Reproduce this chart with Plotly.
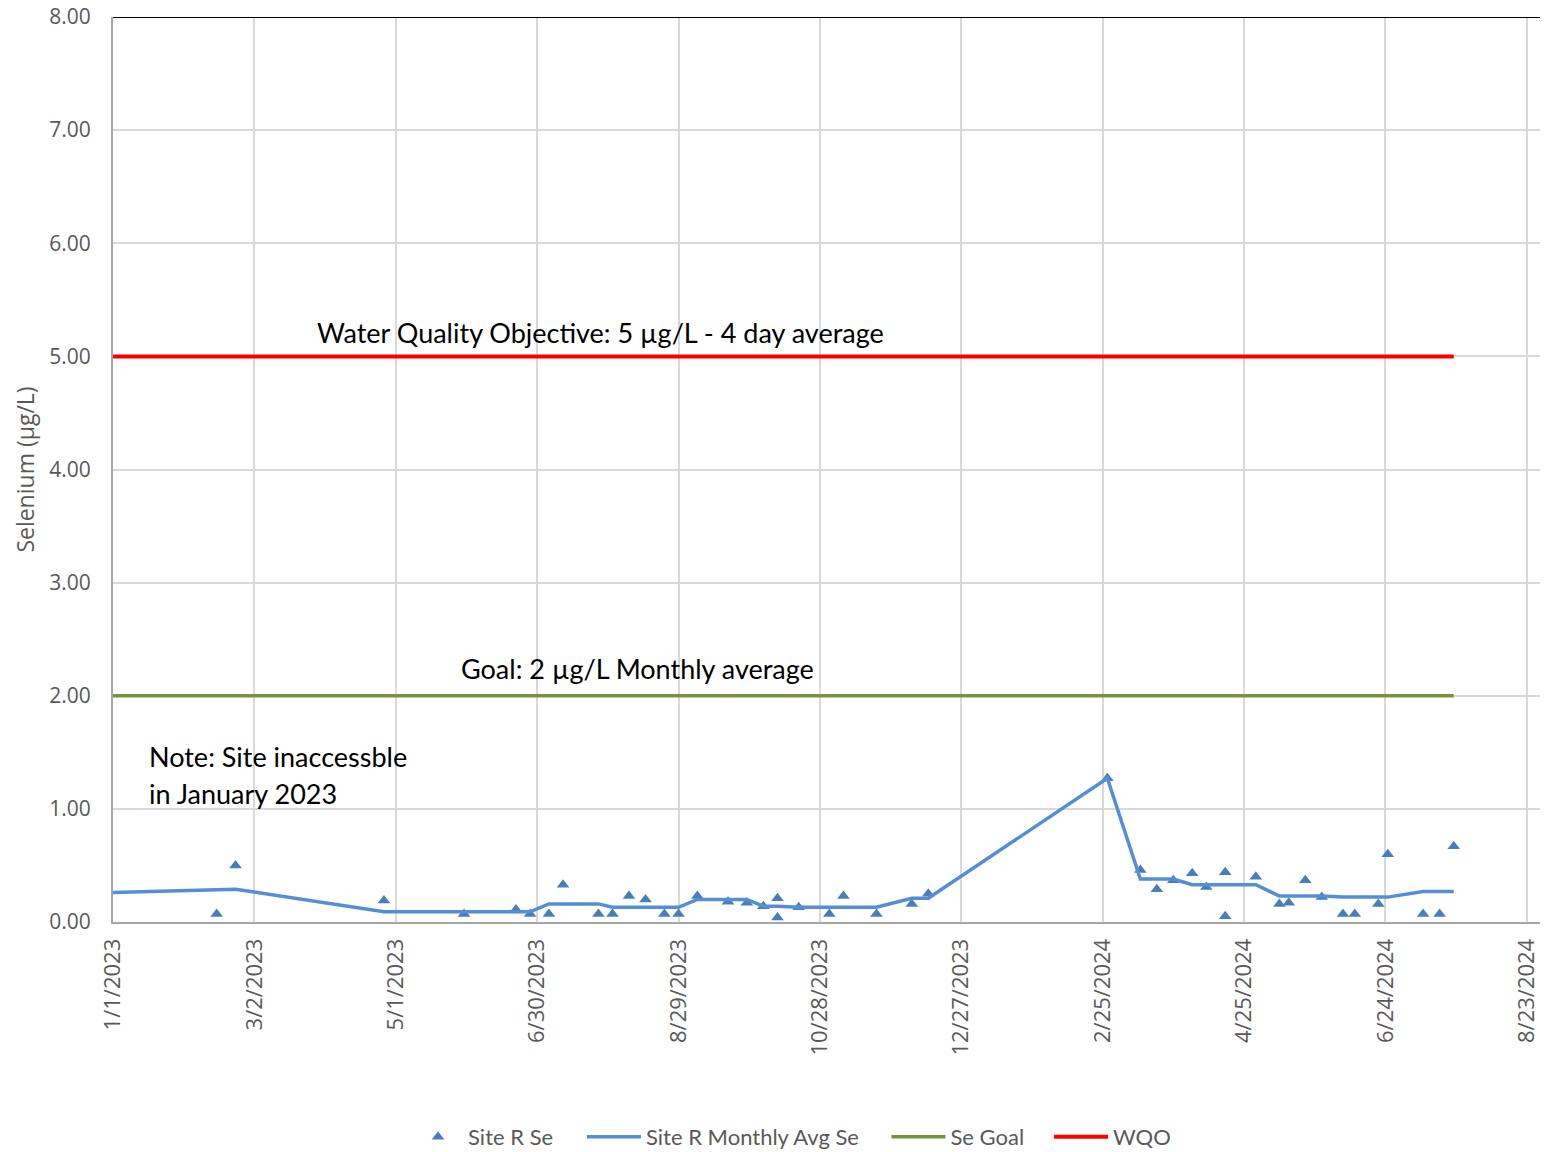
import plotly.graph_objects as go

# Individual samples
sample_dates = [
    "2023-02-14", "2023-02-22", "2023-04-26", "2023-05-30", "2023-06-21", "2023-06-27",
    "2023-07-05", "2023-07-11", "2023-07-26", "2023-08-01", "2023-08-08", "2023-08-15",
    "2023-08-23", "2023-08-29", "2023-09-06", "2023-09-19", "2023-09-27", "2023-10-04",
    "2023-10-10", "2023-10-10", "2023-10-19", "2023-11-01", "2023-11-07", "2023-11-21",
    "2023-12-06", "2023-12-13", "2024-02-27", "2024-03-12", "2024-03-19", "2024-03-26",
    "2024-04-03", "2024-04-09", "2024-04-17", "2024-04-17", "2024-04-30", "2024-05-10",
    "2024-05-14", "2024-05-21", "2024-05-28", "2024-06-06", "2024-06-11", "2024-06-21",
    "2024-06-25", "2024-07-10", "2024-07-17", "2024-07-23",
]
sample_se = [
    0.07, 0.50, 0.19, 0.07, 0.11, 0.07,
    0.07, 0.33, 0.07, 0.07, 0.23, 0.20,
    0.07, 0.07, 0.23, 0.18, 0.17, 0.14,
    0.21, 0.04, 0.13, 0.07, 0.23, 0.07,
    0.16, 0.25, 1.27, 0.46, 0.29, 0.37,
    0.43, 0.31, 0.44, 0.05, 0.40, 0.16,
    0.17, 0.37, 0.22, 0.07, 0.07, 0.16,
    0.60, 0.07, 0.07, 0.67,
]

# Monthly average line
avg_dates = [
    "2023-01-01", "2023-02-14", "2023-02-22", "2023-04-26", "2023-05-30", "2023-06-21",
    "2023-06-27", "2023-07-05", "2023-07-11", "2023-07-26", "2023-08-01", "2023-08-08",
    "2023-08-15", "2023-08-23", "2023-08-29", "2023-09-06", "2023-09-19", "2023-09-27",
    "2023-10-04", "2023-10-10", "2023-10-19", "2023-11-01", "2023-11-07", "2023-11-21",
    "2023-12-06", "2023-12-13", "2024-02-27", "2024-03-12", "2024-03-19", "2024-03-26",
    "2024-04-03", "2024-04-09", "2024-04-17", "2024-04-30", "2024-05-10", "2024-05-14",
    "2024-05-21", "2024-05-28", "2024-06-06", "2024-06-11", "2024-06-21", "2024-06-25",
    "2024-07-10", "2024-07-17", "2024-07-23",
]
avg_se = [
    0.26, 0.29, 0.29, 0.09, 0.09, 0.09,
    0.09, 0.16, 0.16, 0.16, 0.13, 0.13,
    0.13, 0.13, 0.13, 0.20, 0.20, 0.20,
    0.14, 0.14, 0.13, 0.13, 0.13, 0.13,
    0.21, 0.21, 1.27, 0.38, 0.38, 0.38,
    0.33, 0.33, 0.33, 0.33, 0.23, 0.23,
    0.23, 0.23, 0.22, 0.22, 0.22, 0.22,
    0.27, 0.27, 0.27,
]

limit_dates = ["2023-01-01", "2024-07-23"]
goal_values = [2.0, 2.0]
wqo_values = [5.0, 5.0]

AX_FONT = "Open Sans"
TXT_FONT = "Lato"
GREY = "#595959"

fig = go.Figure()
fig.add_trace(go.Scatter(x=sample_dates, y=sample_se, mode="markers", name="Site R Se",
                         legend="legend",
                         marker=dict(symbol="triangle-up", size=11, color="#4a7ebb")))
fig.add_trace(go.Scatter(x=avg_dates, y=avg_se, mode="lines", name="Site R Monthly Avg Se",
                         legend="legend2", line=dict(color="#558ed5", width=3.5)))
fig.add_trace(go.Scatter(x=limit_dates, y=goal_values, mode="lines", name="Se Goal",
                         legend="legend3", line=dict(color="#77933c", width=3.5)))
fig.add_trace(go.Scatter(x=limit_dates, y=wqo_values, mode="lines", name="WQO",
                         legend="legend4", line=dict(color="#ff0000", width=4)))

def leg(xpos, iw):
    return dict(orientation="h", x=xpos, xanchor="left", y=-0.2376, yanchor="middle",
                font=dict(size=22, color=GREY, family=TXT_FONT), itemwidth=iw,
                bgcolor="rgba(0,0,0,0)")

fig.update_layout(
    width=1540, height=1144,
    margin=dict(l=105, r=0, t=9, b=230, autoexpand=False),
    paper_bgcolor="white", plot_bgcolor="white",
    font=dict(family=AX_FONT, size=20, color=GREY),
    showlegend=True,
    legend=leg(0.2056, 50), legend2=leg(0.3268, 54), legend3=leg(0.5390, 54),
    legend4=leg(0.6523, 54),
    xaxis=dict(
        type="date", range=["2023-01-01", "2024-09-01"],
        tick0="2023-01-01", dtick=60 * 86400000, tickformat="%-m/%-d/%Y",
        tickangle=-90, showgrid=True, gridcolor="#d9d9d9", gridwidth=2,
        showline=True, linecolor="#a6a6a6", linewidth=2, ticklabeloverflow="allow",
        ticklabelstandoff=6, tickfont=dict(size=22, color=GREY, family=AX_FONT), zeroline=False,
    ),
    yaxis=dict(
        range=[0, 8], dtick=1, tickformat=".2f", showgrid=True, gridcolor="#d9d9d9", gridwidth=2,
        showline=True, linecolor="#a6a6a6", linewidth=2, zeroline=False,
        ticklabeloverflow="allow",
        ticklabelstandoff=16, tickfont=dict(size=21, color=GREY, family=AX_FONT),
        title=dict(text="Selenium (µg/L)", font=dict(size=23, color=GREY, family=AX_FONT), standoff=8),
    ),
    shapes=[dict(type="line", xref="paper", yref="y", x0=0, x1=1, y0=8, y1=8,
                 line=dict(color="black", width=2))],
    annotations=[
        dict(text="Water Quality Objective: 5 µg/L - 4 day average", xref="paper", yref="y",
             x=0.1408, y=5.21, xanchor="left", yanchor="middle", showarrow=False,
             font=dict(size=27, color="black", family=TXT_FONT)),
        dict(text="Goal: 2 µg/L Monthly average", xref="paper", yref="y",
             x=0.2411, y=2.24, xanchor="left", yanchor="middle", showarrow=False,
             font=dict(size=27, color="black", family=TXT_FONT)),
        dict(text="Note: Site inaccessble", xref="paper", yref="y",
             x=0.0237, y=1.46, xanchor="left", yanchor="middle", showarrow=False,
             font=dict(size=27, color="black", family=TXT_FONT)),
        dict(text="in January 2023", xref="paper", yref="y",
             x=0.0237, y=1.14, xanchor="left", yanchor="middle", showarrow=False,
             font=dict(size=27, color="black", family=TXT_FONT)),
    ],
)

fig.write_html("out.html")
